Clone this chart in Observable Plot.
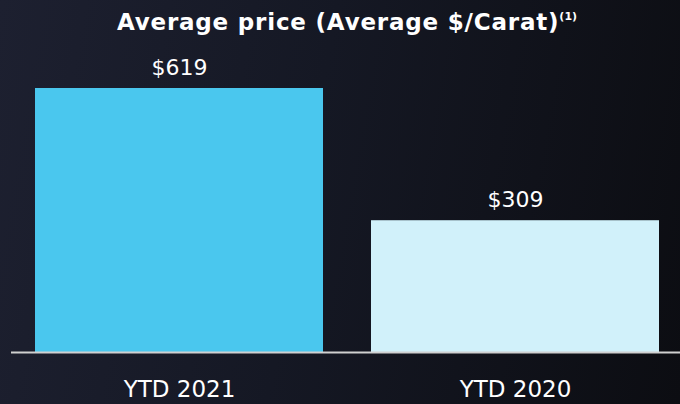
<!DOCTYPE html>
<html>
<head>
<meta charset="utf-8">
<script src="https://cdn.jsdelivr.net/npm/d3@7"></script>
<script src="https://cdn.jsdelivr.net/npm/@observablehq/plot@0.6"></script>
<style>
  html, body { margin: 0; padding: 0; }
  body {
    width: 680px; height: 404px; overflow: hidden;
    background: linear-gradient(100deg, #1d2030 0%, #151824 45%, #0c0d12 100%);
    font-family: "DejaVu Sans", sans-serif;
    color: #fff;
  }
  #title {
    height: 44px; line-height: 44px; text-align: center;
    font-weight: 700; font-size: 23px; padding-left: 14px; letter-spacing: 0.8px;
  }
  #title sup { font-size: 11px; vertical-align: 10px; line-height: 0; letter-spacing: 0; }
</style>
</head>
<body>
<div id="title">Average price (Average $/Carat)<sup>(1)</sup></div>
<div id="chart"></div>
<script>
const categories = ["YTD 2021", "YTD 2020"];
const values = [619, 309];
const labels = ["$619", "$309"];
const colors = ["#4ac7ee", "#d1f1fa"];

const data = categories.map((c, i) => ({cat: c, value: values[i], label: labels[i], color: colors[i]}));

const chart = Plot.plot({
  width: 680,
  height: 360,
  marginTop: 44,
  marginBottom: 52,
  marginLeft: 11,
  marginRight: 0,
  style: {background: "transparent", color: "#fff", fontFamily: "'DejaVu Sans', sans-serif"},
  x: {domain: categories, range: [35, 660], paddingInner: 0.142, paddingOuter: 0},
  y: {domain: [0, 619], axis: null},
  marks: [
    Plot.barY(data, {x: "cat", y: "value", fill: "color"}),
    Plot.ruleY([0], {stroke: "#d0d0d0", strokeWidth: 2}),
    Plot.text(data, {x: "cat", y: "value", text: "label", dy: -21, fontSize: 22, fill: "#fff"}),
    Plot.axisX({tickSize: 0, tickPadding: 28, fontSize: 23, label: null, fill: "#fff"})
  ]
});
document.getElementById("chart").appendChild(chart);
</script>
</body>
</html>
